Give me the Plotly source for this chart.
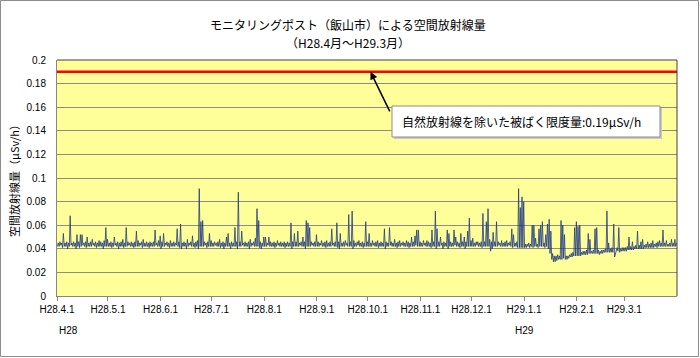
import pandas as pd
import plotly.graph_objects as go

# ---------------- data (μSv/h), one min and one max per day, H28.4.1 - H29.3.31 ----------------
start_date = "2016-04-01"
end_date = "2017-04-01"
limit_value = 0.19

daily_max = [
    # Apr
    .045, .046, .045, .053, .045, .046, .045, .068, .045, .046, .045, .052, .046, .052, .052,
    .045, .046, .050, .045, .046, .048, .045, .046, .045, .047, .046, .045, .047, .058, .048,
    # May
    .045, .046, .045, .050, .045, .046, .045, .046, .048, .045, .058, .046, .045, .046, .045, .046,
    .055, .047, .045, .046, .048, .045, .046, .045, .046, .045, .046, .056, .045, .047, .051,
    # Jun
    .046, .053, .045, .046, .045, .047, .045, .046, .045, .057, .046, .061, .045, .046, .045,
    .048, .045, .046, .051, .045, .046, .047, .091, .063, .064, .046, .045, .046, .053, .047,
    # Jul
    .045, .046, .045, .046, .048, .045, .046, .045, .050, .053, .045, .046, .045, .058, .046, .088,
    .046, .055, .045, .046, .045, .046, .048, .045, .046, .049, .074, .064, .046, .045, .050,
    # Aug
    .050, .045, .050, .046, .045, .046, .045, .047, .045, .046, .045, .046, .045, .046, .045, .062,
    .046, .053, .046, .055, .045, .046, .050, .046, .064, .062, .058, .046, .045, .046, .052,
    # Sep
    .046, .045, .047, .045, .046, .047, .045, .046, .057, .045, .046, .062, .046, .053, .045,
    .046, .047, .045, .069, .046, .072, .047, .045, .046, .047, .045, .046, .045, .063, .046,
    # Oct
    .053, .045, .047, .045, .046, .047, .045, .046, .045, .057, .046, .045, .058, .046, .045, .048,
    .045, .046, .047, .045, .046, .045, .047, .046, .045, .050, .046, .051, .056, .056, .046,
    # Nov
    .045, .047, .045, .047, .046, .045, .056, .046, .072, .057, .046, .050, .045, .046, .045,
    .056, .053, .046, .045, .056, .050, .046, .045, .053, .046, .050, .046, .055, .066, .047,
    # Dec
    .049, .045, .046, .046, .045, .046, .070, .046, .063, .074, .048, .046, .054, .046, .063, .046,
    .045, .047, .045, .046, .047, .045, .046, .057, .052, .045, .046, .091, .075, .084, .080,
    # Jan
    .044, .044, .045, .044, .060, .060, .049, .044, .057, .060, .063, .045, .052, .061, .065, .055,
    .036, .034, .034, .035, .034, .064, .060, .052, .034, .034, .035, .036, .037, .058, .063,
    # Feb
    .059, .060, .037, .038, .038, .039, .053, .048, .038, .039, .057, .058, .039, .038,
    .039, .039, .040, .072, .045, .040, .041, .061, .036, .041, .058, .040, .041, .041,
    # Mar
    .041, .042, .050, .042, .046, .042, .043, .055, .043, .046, .048, .043, .044, .046, .044, .045,
    .047, .044, .045, .046, .047, .045, .056, .045, .047, .044, .045, .048, .045, .048, .045,
]

daily_min = [
    # Apr
    .042, .042, .043, .041, .042, .042, .040, .042, .043, .042, .042, .040, .042, .041, .042,
    .043, .042, .041, .042, .042, .042, .043, .042, .041, .042, .042, .042, .040, .042, .042,
    # May
    .042, .042, .041, .042, .043, .042, .040, .042, .042, .041, .042, .042, .043, .042, .042, .041,
    .042, .042, .042, .043, .041, .042, .042, .042, .041, .042, .042, .042, .043, .042, .042,
    # Jun
    .040, .042, .042, .043, .042, .041, .042, .042, .042, .043, .042, .041, .040, .042, .042,
    .040, .042, .043, .042, .042, .041, .042, .040, .042, .042, .042, .043, .041, .042, .042,
    # Jul
    .042, .042, .043, .042, .042, .041, .042, .040, .042, .042, .042, .040, .042, .042, .042, .040,
    .042, .042, .043, .042, .042, .042, .040, .042, .043, .042, .042, .042, .041, .040, .042,
    # Aug
    .042, .042, .043, .042, .042, .042, .041, .042, .043, .042, .042, .042, .041, .042, .042, .042,
    .040, .042, .042, .042, .042, .043, .042, .042, .040, .042, .042, .042, .043, .042, .042,
    # Sep
    .042, .042, .043, .042, .042, .041, .042, .042, .042, .043, .042, .042, .041, .040, .042,
    .042, .042, .043, .042, .042, .042, .040, .042, .042, .043, .042, .042, .041, .042, .042,
    # Oct
    .042, .042, .042, .043, .042, .042, .041, .042, .042, .042, .040, .042, .042, .043, .042, .042,
    .042, .041, .042, .042, .043, .042, .042, .042, .041, .042, .042, .042, .043, .042, .042,
    # Nov
    .042, .042, .043, .042, .042, .042, .041, .042, .042, .040, .042, .042, .043, .040, .042,
    .042, .040, .042, .042, .042, .043, .042, .042, .041, .042, .042, .040, .042, .042, .042,
    # Dec
    .042, .042, .042, .043, .042, .042, .041, .042, .042, .042, .042, .038, .040, .042, .042, .042,
    .043, .042, .042, .042, .042, .042, .043, .042, .041, .042, .042, .041, .041, .041, .041,
    # Jan
    .041, .041, .042, .041, .042, .041, .042, .042, .041, .042, .042, .042, .041, .042, .040, .036,
    .031, .029, .029, .030, .031, .031, .031, .032, .031, .031, .032, .033, .033, .034, .034,
    # Feb
    .034, .034, .034, .035, .035, .035, .035, .036, .036, .036, .036, .036, .036, .035,
    .036, .036, .037, .037, .037, .037, .037, .037, .033, .038, .038, .037, .038, .038,
    # Mar
    .038, .038, .039, .039, .039, .039, .040, .040, .040, .040, .040, .040, .041, .041, .041, .041,
    .041, .041, .042, .041, .042, .042, .042, .042, .042, .042, .042, .042, .042, .042, .042,
]

tick_dates = ["2016-04-01", "2016-05-01", "2016-06-01", "2016-07-01", "2016-08-01", "2016-09-01",
              "2016-10-01", "2016-11-01", "2016-12-01", "2017-01-01", "2017-02-01", "2017-03-01"]
tick_labels = ["H28.4.1", "H28.5.1", "H28.6.1", "H28.7.1", "H28.8.1", "H28.9.1",
               "H28.10.1", "H28.11.1", "H28.12.1", "H29.1.1", "H29.2.1", "H29.3.1"]
era_dates = ["2016-04-01", "2017-01-01"]
era_labels = ["H28", "H29"]

y_ticks = [0, 0.02, 0.04, 0.06, 0.08, 0.1, 0.12, 0.14, 0.16, 0.18, 0.2]
y_tick_labels = ["0", "0.02", "0.04", "0.06", "0.08", "0.1", "0.12", "0.14", "0.16", "0.18", "0.2"]

title_line1 = "モニタリングポスト（飯山市）による空間放射線量"
title_line2 = "（H28.4月～H29.3月）"
y_title = "空間放射線量（μSv/h）"
note_text = f"自然放射線を除いた被ばく限度量:{limit_value}μSv/h"

# ---------------- build series ----------------
assert len(daily_max) == len(daily_min) == 365
days = pd.date_range(start_date, periods=len(daily_max), freq="D")
xs, ys = [], []
for d, lo, hi in zip(days, daily_min, daily_max):
    xs += [d + pd.Timedelta(hours=6), d + pd.Timedelta(hours=18)]
    ys += [lo, hi]

# ---------------- layout geometry (pixels) ----------------
W, H = 700, 358
L, R, T, B = 57, 677, 60, 296
PW, PH = R - L, B - T


def px(x):
    return (x - L) / PW


def py(y):
    return (B - y) / PH


FONT_JP = "Noto Sans CJK JP"
FONT_LAT = "Liberation Sans"

fig = go.Figure()
fig.add_trace(go.Scatter(x=xs, y=ys, mode="lines",
                         line=dict(color="#1F3A80", width=0.8), hoverinfo="skip", showlegend=False))
fig.add_trace(go.Scatter(x=[start_date, end_date], y=[limit_value, limit_value], mode="lines",
                         line=dict(color="#FF0000", width=2.5), hoverinfo="skip", showlegend=False))

shapes = [
    # outer chart border
    dict(type="rect", xref="paper", yref="paper", x0=px(0.5), x1=px(698.5), y0=py(356.5), y1=py(0.5),
         line=dict(color="#8C8C8C", width=1), layer="above"),
    # plot area top and right borders
    dict(type="line", xref="paper", yref="paper", x0=0, x1=1, y0=1, y1=1,
         line=dict(color="#404040", width=1), layer="above"),
    dict(type="line", xref="paper", yref="paper", x0=1, x1=1, y0=0, y1=1,
         line=dict(color="#404040", width=1), layer="above"),
    # note box shadow + box
    dict(type="rect", xref="paper", yref="paper", x0=px(394), x1=px(662), y0=py(139), y1=py(108),
         fillcolor="#C8C8C8", line=dict(width=0), layer="above"),
    dict(type="rect", xref="paper", yref="paper", x0=px(392), x1=px(660), y0=py(137), y1=py(106),
         fillcolor="#FFFFFF", line=dict(color="#8C8C8C", width=1), layer="above"),
]

annotations = [
    dict(text=title_line1, xref="paper", yref="paper", x=px(348), y=py(25), showarrow=False,
         xanchor="center", yanchor="middle", font=dict(family=FONT_JP, size=12, color="#000")),
    dict(text=title_line2, xref="paper", yref="paper", x=px(348), y=py(43), showarrow=False,
         xanchor="center", yanchor="middle", font=dict(family=FONT_JP, size=12, color="#000")),
    dict(text=note_text, xref="paper", yref="paper", x=px(400), y=py(121.5), showarrow=False,
         xanchor="left", yanchor="middle", font=dict(family=FONT_JP, size=12, color="#000")),
    dict(text="", xref="paper", yref="y", x=px(370.5), y=limit_value, showarrow=True,
         ax=20, ay=41, arrowhead=2, arrowsize=1, arrowwidth=1.5, arrowcolor="#000"),
]
for d, lab, anchor in zip(era_dates, era_labels, ["left", "center"]):
    annotations.append(dict(text=lab, xref="x", yref="paper", x=d, y=py(330), showarrow=False,
                            xanchor=anchor, yanchor="middle",
                            font=dict(family=FONT_LAT, size=10, color="#000")))

fig.update_layout(
    width=W, height=H,
    margin=dict(l=L, r=W - R, t=T, b=H - B, pad=0),
    paper_bgcolor="#FFFFFF",
    plot_bgcolor="#FFFF99",
    showlegend=False,
    hovermode=False,
    shapes=shapes,
    annotations=annotations,
    xaxis=dict(type="date", range=[start_date, end_date], tickvals=tick_dates, ticktext=tick_labels,
               ticks="outside", ticklen=4, tickcolor="#868686", showline=True, linecolor="#868686",
               showgrid=False, zeroline=False, tickangle=0,
               tickfont=dict(family=FONT_LAT, size=10, color="#000")),
    yaxis=dict(range=[0, 0.2], tickvals=y_ticks, ticktext=y_tick_labels, ticks="",
               showgrid=True, gridcolor="#8C8C8C", gridwidth=1, zeroline=False,
               showline=True, linecolor="#868686", ticklabelstandoff=8,
               tickfont=dict(family=FONT_LAT, size=10, color="#000"),
               title=dict(text=y_title, standoff=4, font=dict(family=FONT_JP, size=11, color="#000"))),
)

fig.write_html("out.html", config={"displayModeBar": False, "staticPlot": True},
               post_script="document.body.style.margin='0';")
